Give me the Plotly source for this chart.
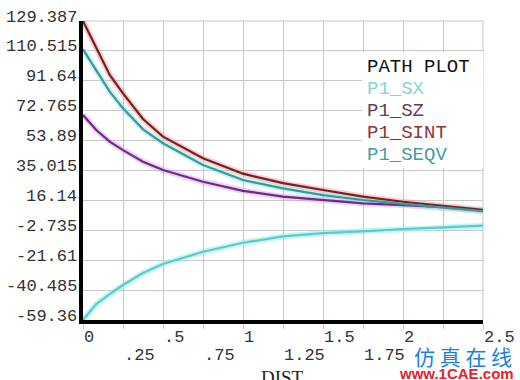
import plotly.graph_objects as go

dist = [0, 0.083, 0.167, 0.25, 0.375, 0.5, 0.75, 1.0, 1.25, 1.5, 1.75, 2.0, 2.25, 2.5]
p1_sx = [-59.36, -49.3, -43.0, -37.3, -29.7, -24.0, -16.3, -10.6, -6.6, -4.5, -3.4, -1.9, -0.9, 0.2]
p1_sz = [70.0, 60.6, 53.2, 47.9, 40.6, 35.3, 27.9, 22.2, 18.5, 16.4, 14.3, 13.2, 11.8, 9.6]
p1_sint = [129.387, 112.1, 95.3, 83.7, 67.5, 56.4, 42.7, 33.0, 27.0, 22.7, 18.5, 15.3, 12.6, 10.1]
p1_seqv = [111.5, 98.5, 84.8, 74.3, 61.0, 52.2, 38.5, 29.0, 23.7, 19.5, 16.4, 13.9, 11.8, 9.4]

y_ticks = [129.387, 110.515, 91.64, 72.765, 53.89, 35.015, 16.14, -2.735, -21.61, -40.485, -59.36]
y_labels = ["129.387", "110.515", "91.64", "72.765", "53.89", "35.015", "16.14",
            "-2.735", "-21.61", "-40.485", "-59.36"]
x_ticks = [0, 0.25, 0.5, 0.75, 1.0, 1.25, 1.5, 1.75, 2.0, 2.25, 2.5]
x_labels = ["0", ".25", ".5", ".75", "1", "1.25", "1.5", "1.75", "2", "2.25", "2.5"]

series = [
    ("P1_SX", p1_sx, "#5ccaca", "rgba(150,240,240,0.55)", "#86d4d4"),
    ("P1_SZ", p1_sz, "#6a2c86", "rgba(225,150,240,0.45)", "#5e3e60"),
    ("P1_SINT", p1_sint, "#7a1e22", "rgba(240,150,150,0.45)", "#8a3636"),
    ("P1_SEQV", p1_seqv, "#3a9898", "rgba(150,235,235,0.5)", "#4a9a9a"),
]

MONO = "Liberation Mono, Courier New, monospace"
fig = go.Figure()
for name, vals, col, halo, _ in series:
    fig.add_trace(go.Scatter(x=dist, y=vals, mode="lines", line=dict(color=halo, width=6),
                             hoverinfo="skip", showlegend=False))
for name, vals, col, halo, _ in series:
    fig.add_trace(go.Scatter(x=dist, y=vals, mode="lines", name=name,
                             line=dict(color=col, width=2.2), showlegend=False))

ann = []
for v, t in zip(y_ticks, y_labels):
    ann.append(dict(x=0, y=v, xref="x", yref="y", text=t, showarrow=False,
                    xanchor="right", yanchor="middle", xshift=-4, yshift=4,
                    font=dict(family=MONO, size=17, color="#333")))
for i, (v, t) in enumerate(zip(x_ticks, x_labels)):
    if v == 2.25:
        continue
    ann.append(dict(x=v, y=0, xref="x", yref="paper", text=t, showarrow=False,
                    xanchor="left", yanchor="middle", xshift=-1,
                    yshift=-17 if i % 2 == 0 else -35,
                    font=dict(family=MONO, size=17, color="#333")))
ann.append(dict(x=0.5, y=0, xref="paper", yref="paper", text="DIST", showarrow=False,
                xanchor="center", yanchor="middle", yshift=-57, xshift=-1,
                font=dict(family="Liberation Serif, serif", size=19, color="#222")))

# legend block
ann.append(dict(x=1.745, y=0, xref="x", yref="paper", text="PATH PLOT", showarrow=False,
                xanchor="left", yanchor="middle", yshift=253, xshift=3,
                font=dict(family=MONO, size=19, color="#111")))
for k, (name, vals, col, halo, tcol) in enumerate(series):
    ann.append(dict(x=1.745, y=0, xref="x", yref="paper", text=name, showarrow=False,
                    xanchor="left", yanchor="middle", yshift=231 - 22 * k, xshift=3,
                    font=dict(family=MONO, size=19, color=tcol)))

# watermark
ann.append(dict(x=1.0, y=0, xref="paper", yref="paper", text="仿 真 在 线", showarrow=False,
                xanchor="right", yanchor="middle", xshift=31, yshift=-36,
                font=dict(family="Noto Sans CJK SC", size=21, color="#1f7fd6")))
ann.append(dict(x=1.0, y=0, xref="paper", yref="paper", text="<b>www.1CAE.com</b>", showarrow=False,
                xanchor="right", yanchor="middle", xshift=33, yshift=-53,
                font=dict(family="Liberation Sans, Arial", size=15, color="#e8202a")))

shapes = [
    dict(type="rect", xref="x", yref="y", x0=1.745, x1=2.52, y0=36.6, y1=109.8,
         fillcolor="white", line=dict(width=0), layer="between"),
    dict(type="line", xref="paper", yref="paper", x0=0, x1=1, y0=1, y1=1,
         line=dict(color="#c8c8c8", width=1), layer="between"),
    dict(type="line", xref="paper", yref="paper", x0=1, x1=1, y0=0, y1=1,
         line=dict(color="#c8c8c8", width=1), layer="between"),
]

fig.update_layout(
    width=520, height=380,
    margin=dict(l=83, r=37, t=21, b=60),
    paper_bgcolor="white", plot_bgcolor="white",
    annotations=ann, shapes=shapes, showlegend=False,
    xaxis=dict(range=[0, 2.5], tickvals=x_ticks, showticklabels=False,
               showgrid=True, gridcolor="#c8c8c8", gridwidth=1, zeroline=False,
               showline=True, linecolor="black", linewidth=4,
               ticks="outside", ticklen=5, tickcolor="#c8c8c8"),
    yaxis=dict(range=[-59.36, 129.387], tickvals=y_ticks, showticklabels=False,
               showgrid=True, gridcolor="#c8c8c8", gridwidth=1, zeroline=False,
               showline=True, linecolor="black", linewidth=4, ticks=""),
)
fig.write_html("out.html", config={"displayModeBar": False},
               post_script="document.body.style.margin='0';document.body.style.overflow='hidden';")
